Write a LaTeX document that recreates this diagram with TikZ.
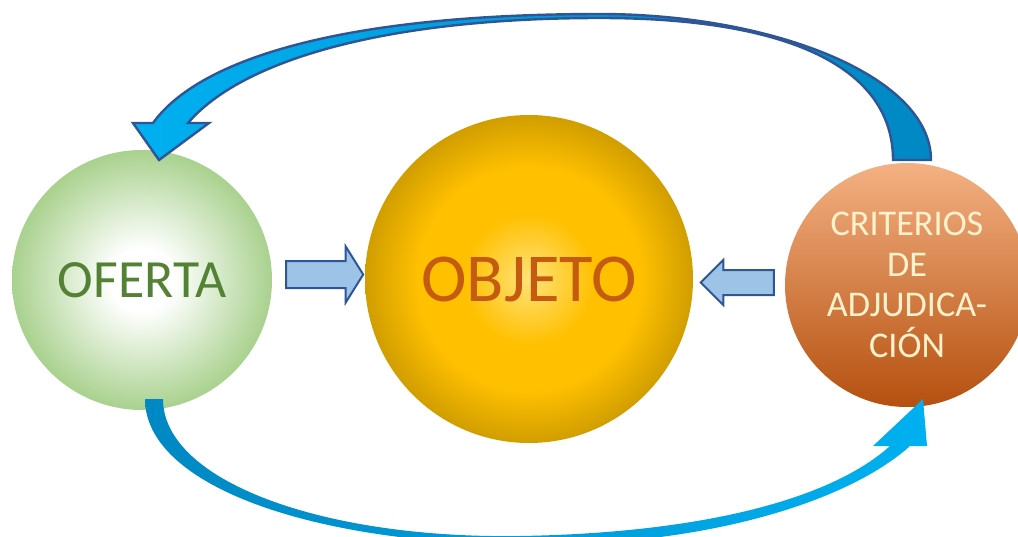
\documentclass[tikz,border=0pt]{standalone}
\usepackage{fontspec}
\setmainfont{Carlito}
\usetikzlibrary{shapes.arrows}
\definecolor{ofertagreen}{HTML}{A9D18E}
\definecolor{ofertatext}{HTML}{548235}
\definecolor{objlight}{HTML}{FFE27A}
\definecolor{objmid}{HTML}{FFC000}
\definecolor{objdark}{HTML}{D19E00}
\definecolor{objtext}{HTML}{C55A11}
\definecolor{critlight}{HTML}{F4B183}
\definecolor{critmid}{HTML}{ED7D31}
\definecolor{critdark}{HTML}{B5500F}
\definecolor{crittext}{HTML}{FFF2CC}
\definecolor{arrowfill}{HTML}{9DC3E6}
\definecolor{arrowline}{HTML}{2F5597}
\definecolor{loopdark}{HTML}{0088C3}
\definecolor{looplight}{HTML}{00B0F0}
\pgfdeclareradialshading{ofertaball}{\pgfpoint{0bp}{0bp}}{color(0bp)=(white); color(6bp)=(white); color(25bp)=(ofertagreen); color(50bp)=(ofertagreen)}
\pgfdeclareradialshading{objball}{\pgfpoint{0bp}{0bp}}{color(0bp)=(objlight); color(10bp)=(objmid); color(17bp)=(objmid); color(25bp)=(objdark); color(50bp)=(objdark)}
\begin{document}
\begin{tikzpicture}[x=0.5pt,y=-0.5pt,
    ball/.style={circle,inner sep=0pt},
    blockarrow/.style={single arrow,draw=arrowline,fill=arrowfill,line width=1pt,
      inner xsep=0pt,single arrow head indent=0pt}]
  \useasboundingbox (0,0) rectangle (1018,536);
  % the three circles
  \node[ball,minimum size=130pt,shading=ofertaball,text=ofertatext,
        font=\fontsize{26.9}{30}\selectfont] (oferta) at (142,280) {OFERTA};
  \node[ball,minimum size=164pt,shading=objball,text=objtext,
        font=\fontsize{34.3}{38}\selectfont] (objeto) at (529,279) {OBJETO};
  \node[ball,minimum size=122pt,top color=critlight,middle color=critmid,
        bottom color=critdark,text=crittext,align=center,
        font=\fontsize{18.1}{20.3}\selectfont] (criterios) at (907,285)
        {CRITERIOS\\DE\\ADJUDICA-\\CIÓN};
  % block arrows towards the object
  \node[blockarrow,minimum height=38.5pt,inner ysep=6.25pt,
        single arrow head extend=7.25pt,single arrow tip angle=116] (toobjeto) at (320.5,274.5) {};
  \node[blockarrow,shape border rotate=180,minimum height=36.5pt,inner ysep=5.75pt,
        single arrow head extend=5pt,single arrow tip angle=90] (fromcriterios) at (743.5,282.5) {};
  % curved arrow on top: criterios -> oferta
  \path[draw=arrowline,line width=1.2pt,left color=looplight,right color=loopdark]
    (931,160) .. controls (931,75) and (770,14) .. (600,14)
    .. controls (345,14) and (200,58) .. (153,123) -- (133,123) -- (159,160)
    -- (209,123) -- (188,123) .. controls (240,62) and (380,18) .. (600,18)
    .. controls (790,18) and (893,68) .. (893,160) -- cycle;
  % curved arrow below: oferta -> criterios
  \path[left color=loopdark,right color=looplight]
    (145,399) .. controls (145,482) and (300,542) .. (520,545)
    .. controls (710,547) and (850,500) .. (910,446) -- (927,446) -- (923,399)
    -- (873,446) -- (890,446) .. controls (830,500) and (700,533) .. (520,536)
    .. controls (320,539) and (163,480) .. (163,399) -- cycle;
\end{tikzpicture}
\end{document}
